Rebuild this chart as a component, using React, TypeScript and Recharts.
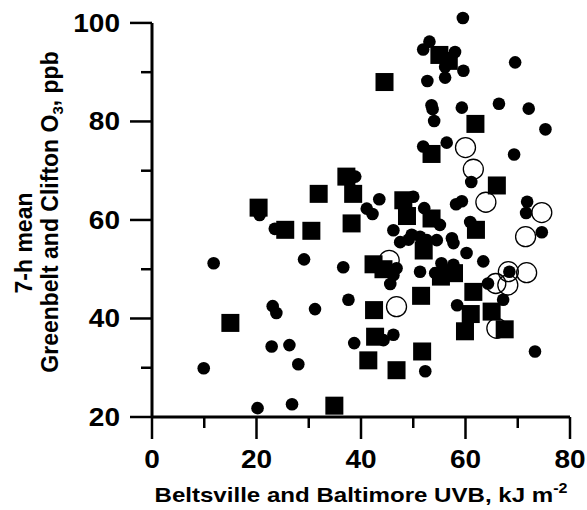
import { ReferenceLine, Scatter, ScatterChart, XAxis, YAxis } from 'recharts'

// values (UVB kJ m-2, O3 ppb)
const filledCircles: [number, number][] = [
  [59.5, 101], [53.1, 96.2], [51.9, 94.6], [58.0, 94.1], [56.1, 91.1], [59.6, 90.3],
  [56.1, 88.9], [52.7, 88.2], [69.5, 92.0], [53.5, 83.3], [53.7, 82.5], [59.3, 82.8],
  [66.4, 83.6], [72.1, 82.6], [54.0, 80.1], [75.3, 78.4], [51.9, 74.9], [56.4, 75.7],
  [69.3, 73.3], [61.1, 67.7], [58.2, 63.2], [59.3, 63.8], [71.8, 63.7], [71.6, 61.4],
  [74.6, 57.5], [38.9, 68.8], [20.6, 61.0], [23.5, 58.2], [43.5, 64.2], [41.1, 62.3],
  [42.2, 61.2], [50.0, 64.7], [52.1, 62.4], [55.1, 59.0], [46.2, 57.9], [49.7, 57.0],
  [47.5, 55.5], [49.1, 56.0], [51.3, 56.6], [52.6, 55.9], [54.5, 55.9], [57.4, 56.3],
  [57.7, 55.3], [60.9, 59.6], [60.2, 53.3], [63.4, 51.6], [55.4, 51.2], [57.7, 50.9],
  [54.2, 49.2], [51.3, 49.5], [46.2, 48.8], [45.6, 47.0], [46.8, 50.2], [36.6, 50.4],
  [37.6, 43.8], [58.4, 42.7], [64.3, 47.1], [67.2, 43.8], [68.4, 49.5], [11.8, 51.2],
  [29.1, 52.0], [23.1, 42.5], [23.8, 41.1], [31.2, 41.9], [22.9, 34.3], [26.3, 34.6],
  [28.0, 30.7], [38.7, 35.0], [9.9, 29.9], [20.2, 21.8], [26.8, 22.6], [46.2, 36.7],
  [44.3, 35.6], [52.3, 29.3], [73.3, 33.3],
]

const filledSquares: [number, number][] = [
  [44.5, 88.0], [55.0, 93.5], [56.8, 92.3], [61.9, 79.5], [53.5, 73.4], [66.0, 67.0],
  [20.4, 62.5], [25.5, 58.0], [30.5, 57.8], [31.9, 65.3], [37.2, 68.8], [38.5, 65.3],
  [38.2, 59.3], [48.1, 64.0], [48.8, 60.8], [53.5, 60.3], [62.0, 58.0], [52.0, 53.8],
  [55.3, 48.5], [57.8, 49.2], [42.4, 51.0], [44.3, 50.0], [61.5, 45.4], [61.0, 40.9],
  [59.9, 37.4], [65.0, 41.4], [67.5, 37.8], [42.5, 41.7], [51.5, 44.6], [42.7, 36.3],
  [41.4, 31.5], [46.8, 29.5], [51.7, 33.3], [15.0, 39.1], [34.9, 22.3],
]

const openCircles: [number, number][] = [
  [60.0, 74.7], [61.5, 70.3], [63.9, 63.6], [74.6, 61.5], [71.5, 56.6], [68.2, 49.5],
  [71.7, 49.3], [68.1, 46.8], [65.8, 47.1], [66.0, 38.0], [46.8, 42.4], [45.4, 51.8],
]

const xTicks = [0, 10, 20, 30, 40, 50, 60, 70, 80]
const yTicks = [20, 30, 40, 50, 60, 70, 80, 90, 100]

const FONT = "'Liberation Sans', Arial, sans-serif"

const toPoints = (rows: [number, number][]) => rows.map(([x, y]) => ({ x, y }))

function XTick({ x, y, payload }: any) {
  const major = payload.value % 20 === 0
  return (
    <g>
      <line x1={x} x2={x} y1={y} y2={y + (major ? 22 : 11)} stroke="#000" strokeWidth={2.5} />
      {major && (
        <text
          transform={`translate(${x},${y + 51}) scale(1.12,1)`}
          textAnchor="middle"
          fontSize={25}
          fontWeight="bold"
          fontFamily={FONT}
          fill="#000"
        >
          {payload.value}
        </text>
      )}
    </g>
  )
}

function YTick({ x, y, payload }: any) {
  const major = payload.value % 20 === 0
  return (
    <g>
      <line x1={x - (major ? 22 : 11)} x2={x} y1={y} y2={y} stroke="#000" strokeWidth={2.5} />
      {major && (
        <text
          transform={`translate(${x - 32},${y + 9}) scale(1.12,1)`}
          textAnchor="end"
          fontSize={25}
          fontWeight="bold"
          fontFamily={FONT}
          fill="#000"
        >
          {payload.value}
        </text>
      )}
    </g>
  )
}

function XTitle({ viewBox }: any) {
  const cx = viewBox.x + viewBox.width / 2
  return (
    <text
      x={cx}
      y={viewBox.y + 85}
      textAnchor="middle"
      fontSize={21}
      fontWeight="bold"
      fontFamily={FONT}
      fill="#000"
      textLength={413}
      lengthAdjust="spacingAndGlyphs"
    >
      Beltsville and Baltimore UVB, kJ m
      <tspan fontSize={14} dy={-9}>-2</tspan>
    </text>
  )
}

function YTitle({ viewBox }: any) {
  const x1 = viewBox.x + 32
  const y1 = 243
  const x2 = viewBox.x + 58
  const y2 = 212
  return (
    <g fontSize={23} fontWeight="bold" fontFamily={FONT} fill="#000">
      <text x={x1} y={y1} textAnchor="middle" transform={`rotate(-90, ${x1}, ${y1})`}>
        7-h mean
      </text>
      <text x={x2} y={y2} textAnchor="middle" transform={`rotate(-90, ${x2}, ${y2})`}>
        Greenbelt and Clifton O<tspan fontSize={15} dy={5}>3</tspan>
        <tspan dy={-5}>, ppb</tspan>
      </text>
    </g>
  )
}

const Dot = (p: any) => <circle cx={p.cx} cy={p.cy} r={6.3} fill="#000" />
const Square = (p: any) => <rect x={p.cx - 9} y={p.cy - 9} width={18} height={18} fill="#000" />
const Ring = (p: any) => <circle cx={p.cx} cy={p.cy} r={10} fill="none" stroke="#000" strokeWidth={1.3} />

export default function App() {
  return (
    <div style={{ position: 'absolute', left: 0, top: 0, background: '#fff' }}>
      <ScatterChart width={587} height={510} margin={{ top: 18, right: 17, bottom: 0, left: 0 }}>
        <XAxis
          type="number"
          dataKey="x"
          domain={[0, 80]}
          ticks={xTicks}
          interval={0}
          height={93}
          tickSize={0}
          tickMargin={0}
          tickLine={false}
          axisLine={{ stroke: '#000', strokeWidth: 3 }}
          tick={<XTick />}
          label={{ content: (props: any) => <XTitle {...props} /> }}
        />
        {/* top point sits just above 100, so the domain reaches 101 and the axis line is drawn to 100 */}
        <YAxis
          type="number"
          dataKey="y"
          domain={[20, 101]}
          ticks={yTicks}
          interval={0}
          width={152}
          tickSize={0}
          tickMargin={0}
          tickLine={false}
          axisLine={false}
          tick={<YTick />}
          label={{ content: (props: any) => <YTitle {...props} /> }}
        />
        <ReferenceLine
          segment={[{ x: 0, y: 20 }, { x: 0, y: 100 }]}
          stroke="#000"
          strokeWidth={3}
        />
        <Scatter data={toPoints(filledCircles)} shape={Dot} isAnimationActive={false} />
        <Scatter data={toPoints(filledSquares)} shape={Square} isAnimationActive={false} />
        <Scatter data={toPoints(openCircles)} shape={Ring} isAnimationActive={false} />
      </ScatterChart>
    </div>
  )
}
